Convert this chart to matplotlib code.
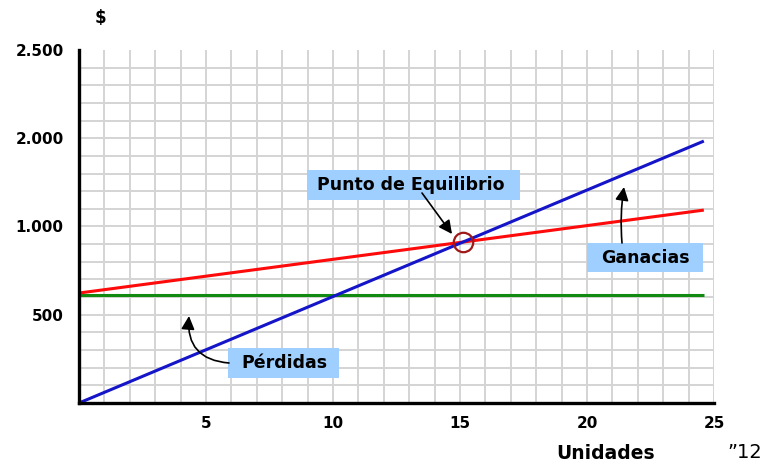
import numpy as np
import matplotlib
matplotlib.use("Agg")
import matplotlib.pyplot as plt
from matplotlib.patches import Rectangle

plt.rcParams['font.family'] = ['DejaVu Sans']

# ---- data ----
x_range = [0, 24.6]                 # unidades
costo_fijo = [612, 612]             # green line
costo_total = [623, 1093]           # red line
ingresos = [0, 1484]                # blue line
x_ticks = [5, 10, 15, 20, 25]
x_tick_labels = ['5', '10', '15', '20', '25']
y_ticks = [500, 1000, 1500, 2000]
y_tick_labels = ['500', '1.000', '2.000', '2.500']

# break-even point from the two lines
m_t = (costo_total[1] - costo_total[0]) / (x_range[1] - x_range[0])
m_i = (ingresos[1] - ingresos[0]) / (x_range[1] - x_range[0])
be_x = (costo_total[0] - ingresos[0]) / (m_i - m_t)
be_y = ingresos[0] + m_i * be_x

W, H = 766, 465
fig = plt.figure(figsize=(W / 100, H / 100), dpi=100)
ax = fig.add_axes([79 / W, (H - 403) / H, 635 / W, 353 / H])
ax.set_xlim(0, 25)
ax.set_ylim(0, 2000)

# grid
grid_c = '#d4d4d4'
ax.vlines(np.arange(1, 26), 0, 2000, colors=grid_c, lw=1.4, zorder=1)
ax.hlines(np.arange(100, 2000, 100), 0, 25, colors=grid_c, lw=1.4, zorder=1)

# lines
ax.plot(x_range, costo_fijo, color='#128a12', lw=2.2, zorder=3, solid_capstyle='butt')
ax.plot(x_range, costo_total, color='#ff0a0a', lw=2.2, zorder=3, solid_capstyle='butt')
ax.plot(x_range, ingresos, color='#1414c8', lw=2.2, zorder=4, solid_capstyle='butt')
ax.plot(be_x, be_y, 'o', ms=14, mfc='none', mec='#a01818', mew=1.6, zorder=5)

# spines / ticks
for s in ['top', 'right']:
    ax.spines[s].set_visible(False)
for s in ['left', 'bottom']:
    ax.spines[s].set_linewidth(2.4)
    ax.spines[s].set_color('black')
    ax.spines[s].set_zorder(6)
ax.set_xticks(x_ticks)
ax.set_xticklabels(x_tick_labels, fontsize=11, fontweight='bold')
ax.set_yticks(y_ticks)
ax.set_yticklabels(y_tick_labels, fontsize=11, fontweight='bold')
ax.tick_params(axis='x', length=0, pad=9)
ax.tick_params(axis='y', length=0, pad=11)

box_c = '#9ecfff'

def px_x(p):
    return (p - 79) / 635 * 25

def px_y(p):
    return (403 - p) / 353 * 2000

def label_box(x0, y0, x1, y1, tx, ty, text):
    ax.add_patch(Rectangle((px_x(x0), px_y(y1)), px_x(x1) - px_x(x0), px_y(y0) - px_y(y1),
                           facecolor=box_c, edgecolor='none', zorder=7))
    ax.text(px_x(tx), px_y(ty), text, ha='center', va='center', fontsize=12.5,
            fontweight='bold', color='black', zorder=8)

label_box(307, 170, 520, 200, 411, 185, 'Punto de Equilibrio')
label_box(587, 243, 703, 272, 645, 258, 'Ganacias')
label_box(228, 348, 339, 378, 284, 363, 'Pérdidas')

arrow = dict(arrowstyle='-|>', color='black', lw=1.2, mutation_scale=20, shrinkA=0, shrinkB=0)
ax.annotate('', xy=(px_x(452), px_y(234)), xytext=(px_x(422), px_y(193)),
            arrowprops=dict(arrow, connectionstyle='arc3,rad=0'), zorder=9)
ax.annotate('', xy=(px_x(624), px_y(187)), xytext=(px_x(622), px_y(243)),
            arrowprops=dict(arrow, connectionstyle='arc3,rad=-0.06'), zorder=9)
ax.annotate('', xy=(px_x(189), px_y(316)), xytext=(px_x(229), px_y(363)),
            arrowprops=dict(arrow, connectionstyle='arc3,rad=-0.5'), zorder=9)

fig.text(100 / W, 1 - 18 / H, '$', ha='center', va='center', fontsize=12, fontweight='bold')
fig.text(606 / W, 1 - 453 / H, 'Unidades', ha='center', va='center', fontsize=13.5, fontweight='bold')
fig.text(745 / W, 1 - 452 / H, '”12', ha='center', va='center', fontsize=14)

fig.savefig('out.png', dpi=100)
